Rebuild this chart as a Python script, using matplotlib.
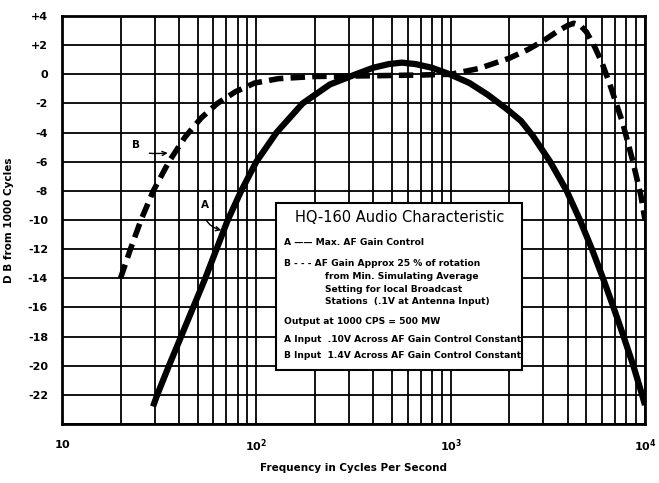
import numpy as np
import matplotlib.pyplot as plt
from matplotlib.patches import Rectangle
from matplotlib.ticker import FixedLocator, LogLocator, NullFormatter

# curve A - max AF gain (solid)
freq_a = [29.4, 30.9, 35.5, 41.0, 47.3, 54.6, 62.4, 71.3, 83.6, 100, 127, 173, 239, 325, 400, 480,
          560, 660, 800, 990, 1250, 1550, 1950, 2300, 2640, 3250, 3954, 4624, 5333, 6081, 6887,
          7762, 8710, 9661, 10000]
db_a = [-22.8, -22, -20, -18, -16, -14, -12, -10, -8, -6, -4, -2, -0.7, 0, 0.45, 0.7,
        0.8, 0.7, 0.45, 0, -0.6, -1.4, -2.4, -3.2, -4.2, -6, -8, -10, -12, -14, -16,
        -18, -20, -22, -22.7]

# curve B - AF gain approx 25% (dashed)
freq_b = [20, 22.5, 25.5, 29.5, 35.5, 43, 52, 63, 78, 98, 130, 200, 400, 700, 1000, 1400, 2000,
          2500, 3000, 3500, 4000, 4300, 4650, 5000, 5500, 6000, 6560, 7660, 8630, 9550, 10000]
db_b = [-14, -12, -10, -8, -6, -4.3, -3, -2, -1.2, -0.6, -0.3, -0.15, -0.1, -0.05, 0, 0.4, 1.1,
        1.7, 2.3, 2.9, 3.35, 3.5, 3.35, 2.9, 1.9, 0.8, -0.6, -3.3, -5.9, -8.4, -10]

yticks = list(range(4, -23, -2))
ytick_labels = [('+%d' % v if v > 0 else ('0' if v == 0 else '-%d' % -v)) for v in yticks]
xticks = [10, 100, 1000, 10000]
xtick_labels = [r'$\mathbf{10}$', r'$\mathbf{10^2}$', r'$\mathbf{10^3}$', r'$\mathbf{10^4}$']

title = 'HQ-160 Audio Characteristic'
box_lines = [
    "A \u2014\u2014 Max. AF Gain Control",
    "B - - - AF Gain Approx 25 % of rotation",
    "from Min. Simulating Average",
    "Setting for local Broadcast",
    "Stations  (.1V at Antenna Input)",
    "Output at 1000 CPS = 500 MW",
    "A Input  .10V Across AF Gain Control Constant",
    "B Input  1.4V Across AF Gain Control Constant",
]

W, H = 659, 483
fig = plt.figure(figsize=(W / 100, H / 100), dpi=100)
fig.patch.set_facecolor('white')
L, R, T, B = 62, 645, 16, 424
ax = fig.add_axes([L / W, 1 - B / H, (R - L) / W, (B - T) / H])

ax.set_xscale('log')
ax.set_xlim(10, 10000)
ax.set_ylim(-24, 4)

ax.set_xticks(xticks)
ax.set_xticklabels(xtick_labels)
ax.xaxis.set_minor_locator(LogLocator(base=10, subs=np.arange(2, 10)))
ax.xaxis.set_minor_formatter(NullFormatter())
ax.set_yticks(yticks + [-24])
ax.set_yticklabels(ytick_labels + [''])
ax.yaxis.set_minor_locator(FixedLocator([]))

ax.grid(True, which='both', color='black', lw=1.3, zorder=1)
ax.set_axisbelow(True)
ax.tick_params(which='both', length=0, pad=10, labelsize=8)
for lab in ax.get_yticklabels():
    lab.set_fontweight('bold')
for s in ax.spines.values():
    s.set_linewidth(2)

ax.plot(freq_a, db_a, color='black', lw=4.5, solid_capstyle='butt', solid_joinstyle='round',
        zorder=4)
ax.plot(freq_b, db_b, color='black', lw=4.0, linestyle=(0, (2.6, 1.3)),
        dash_capstyle='butt', zorder=4)

ax.set_xlabel('Frequency in Cycles Per Second', fontsize=7.5, fontweight='bold', labelpad=6)
ax.set_ylabel('D B from 1000 Cycles', fontsize=7.5, fontweight='bold', labelpad=10)

# curly pointers to the curves
ax.annotate('B', xy=(35, -5.4), xytext=(-23, 6), textcoords='offset points',
            fontsize=7.5, fontweight='bold', ha='center', va='center',
            arrowprops=dict(arrowstyle='->', lw=1.0, color='black',
                            connectionstyle='angle3,angleA=-90,angleB=5',
                            shrinkA=5, shrinkB=0))
ax.annotate('A', xy=(66, -10.7), xytext=(-12, 18), textcoords='offset points',
            fontsize=7.5, fontweight='bold', ha='center', va='center',
            arrowprops=dict(arrowstyle='->', lw=1.0, color='black',
                            connectionstyle='angle3,angleA=-100,angleB=-15',
                            shrinkA=5, shrinkB=0))

# description box
bx0, bx1 = (276 - L) / (R - L), (522 - L) / (R - L)
by1, by0 = (B - 203) / (B - T), (B - 370) / (B - T)
ax.add_patch(Rectangle((bx0, by0), bx1 - bx0, by1 - by0, transform=ax.transAxes,
                       facecolor='white', edgecolor='black', lw=1.5, zorder=3))

def px(x, y):
    return (x / W, 1 - y / H)

fig.text(*px(400, 218), title, fontsize=10.5, ha='center', va='center', zorder=5)
ys = [243, 264, 276.5, 289, 301.5, 322, 339, 355]
xs = [284, 284, 325, 325, 325, 284, 284, 284]
for txt, y, x in zip(box_lines, ys, xs):
    fig.text(*px(x, y), txt, fontsize=6.6, fontweight='bold', ha='left', va='center', zorder=5)

fig.savefig('out.png', dpi=100, facecolor='white')
